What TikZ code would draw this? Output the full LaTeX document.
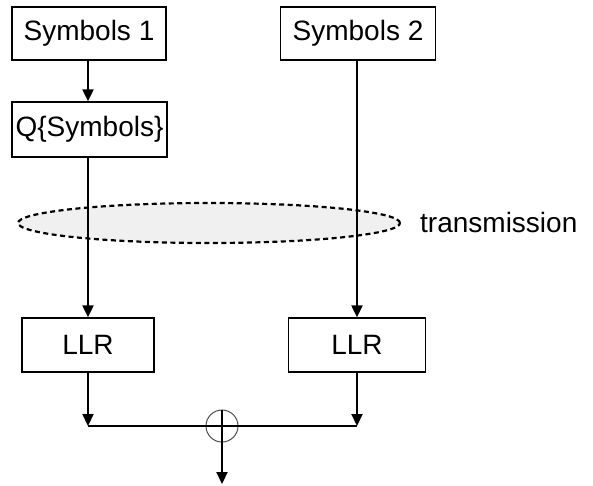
\documentclass[tikz,border=0pt]{standalone}
\usepackage{fontspec}
\setmainfont{Liberation Sans}
\usetikzlibrary{arrows.meta,shapes.geometric}
\begin{document}
\begin{tikzpicture}[x=1pt,y=1pt,
  font=\fontsize{28}{34}\selectfont,
  box/.style={draw, line width=1.3pt, minimum height=53pt, inner sep=0pt},
  flow/.style={line width=2.1pt, -{Triangle[length=12pt,width=11pt]}},
  plain/.style={line width=2.1pt}]
\useasboundingbox (0,0) rectangle (593,-485);

% channel region
\node[ellipse, draw, dash pattern=on 5pt off 3.5pt, line width=2.2pt,
      fill=black!6, minimum width=382pt, minimum height=40pt, inner sep=0pt]
      (chan) at (209,-223) {};
\node[anchor=west, inner sep=0pt] (tx) at (420,-222) {transmission};

% source blocks
\node[box, minimum width=154pt] (s1) at (89,-33.5) {Symbols 1};
\node[box, minimum width=155pt] (s2) at (358,-33.5) {Symbols 2};
\node[box, minimum width=155pt, minimum height=55pt] (q) at (89.5,-129.5) {Q\{Symbols\}};

% LLR blocks
\node[box, minimum width=132pt, minimum height=54pt] (l1) at (88,-345) {LLR};
\node[box, minimum width=137pt, minimum height=54pt] (l2) at (357,-345) {LLR};

% combiner
\node[circle, draw=black!70, line width=1pt, minimum size=32pt, inner sep=0pt] (sum) at (222,-426) {};
\coordinate (j1) at (88,-426);
\coordinate (j2) at (357,-426);
\coordinate (out) at (222,-484);

% connectors
\draw[flow] (s1.south -| j1) -- (q.north -| j1);
\draw[flow] (q.south -| j1) -- (l1.north -| j1);
\draw[flow] (s2.south -| j2) -- (l2.north -| j2);
\draw[flow] (l1.south -| j1) -- (j1);
\draw[flow] (l2.south -| j2) -- (j2);
\draw[plain] (j1) -- (j2);
\draw[flow] (sum.north) -- (out);
\end{tikzpicture}
\end{document}
